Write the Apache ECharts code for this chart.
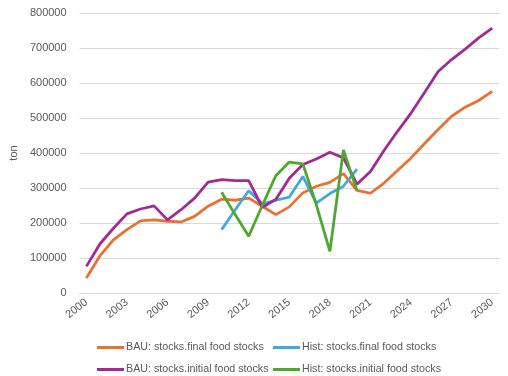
<!DOCTYPE html>
<html><head><meta charset="utf-8">
<script src="https://cdn.jsdelivr.net/npm/echarts@6/dist/echarts.min.js"></script>
<style>html,body{margin:0;padding:0;background:#fff}#c{width:508px;height:376px}</style>
</head><body><div id="c"></div>
<script>
var years = [];
for (var y = 2000; y <= 2030; y++) years.push(String(y));
var bauFinal = [43000,106000,152000,181000,206000,209000,205000,203000,219000,248000,268000,265000,271000,248000,224000,246000,286000,305000,316000,341000,293000,285000,314000,350000,386000,427000,467000,505000,531000,550000,576000];
var histFinal = [null,null,null,null,null,null,null,null,null,null,181000,238000,292000,255000,265000,274000,333000,257000,284000,305000,354000,null,null,null,null,null,null,null,null,null,null];
var bauInitial = [76000,140000,185000,226000,240000,249000,209000,238000,271000,317000,324000,321000,321000,245000,267000,328000,367000,383000,402000,386000,311000,347000,407000,462000,514000,573000,633000,667000,697000,729000,757000];
var histInitial = [null,null,null,null,null,null,null,null,null,null,288000,224000,162000,250000,335000,374000,369000,252000,119000,409000,293000,null,null,null,null,null,null,null,null,null,null];
var names = ['BAU: stocks.final food stocks','Hist: stocks.final food stocks','BAU: stocks.initial food stocks','Hist: stocks.initial food stocks'];
var colors = ['#E97132','#47A6DA','#A02B93','#4EA72E'];
var datas = [bauFinal, histFinal, bauInitial, histInitial];

var chart = echarts.init(document.getElementById('c'));
var font = 'Liberation Sans';
var legendPos = [[92,337],[268,337],[92,359],[268,359]];
var legends = names.map(function(n,i){
  return {data:[n], left:legendPos[i][0], top:legendPos[i][1], itemWidth:27, itemHeight:3, itemGap:0,
    icon:'rect', textStyle:{color:'#595959', fontSize:10.7, fontFamily:font, padding:[0,0,0,-3]}};
});
chart.setOption({
  animation:false,
  grid:{left:72, right:9, top:13, bottom:83},
  legend: legends,
  xAxis:{type:'category', data:years, boundaryGap:true,
    axisLine:{show:true, lineStyle:{color:'#d9d9d9'}}, axisTick:{show:false},
    axisLabel:{interval:2, rotate:38, color:'#595959', fontSize:11, fontFamily:font, margin:8}},
  yAxis:{type:'value', min:0, max:800000, interval:100000, name:'ton', nameLocation:'middle', nameGap:56,
    nameTextStyle:{color:'#595959', fontSize:11, fontFamily:font},
    axisLine:{show:false}, axisTick:{show:false},
    splitLine:{lineStyle:{color:'#d9d9d9', width:1}},
    axisLabel:{color:'#595959', fontSize:11, fontFamily:font, margin:13, formatter:function(v){return String(v);}}},
  series: datas.map(function(d,i){
    return {name:names[i], type:'line', data:d, symbol:'none', connectNulls:false,
      lineStyle:{color:colors[i], width:2.8}, itemStyle:{color:colors[i]}};
  })
});
</script></body></html>
